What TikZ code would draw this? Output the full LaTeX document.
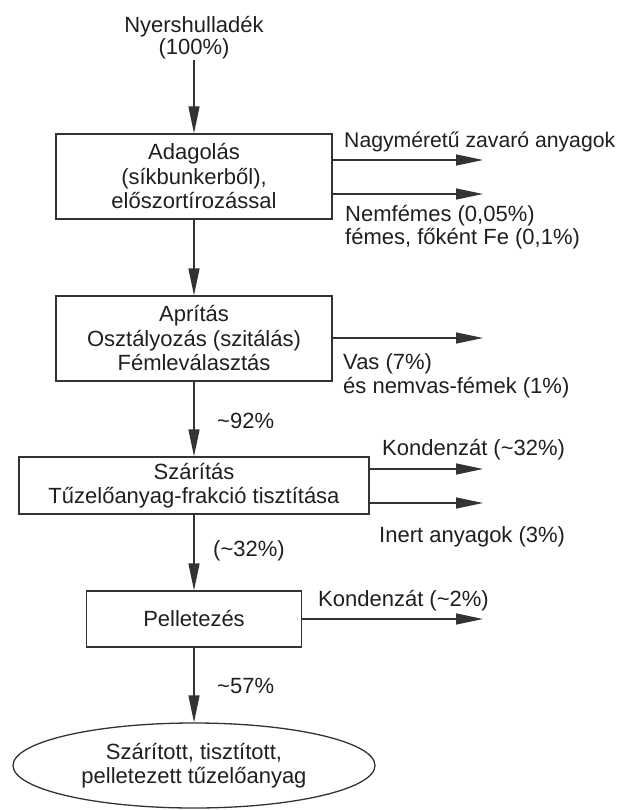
\documentclass[tikz,border=0pt]{standalone}
\usepackage{fontspec}
\setmainfont{Liberation Sans}
\usetikzlibrary{arrows.meta,shapes.geometric}
\begin{document}
\begin{tikzpicture}[x=1pt,y=-1pt,
  every node/.style={inner sep=0pt, font=\fontsize{22}{24.5}\selectfont, text=black!88},
  procbox/.style={draw=black!80, line width=1.3pt, align=center},
  flow/.style={draw=black!80, line width=1.3pt, -{Triangle[length=27pt,width=11pt]}},
  lbl/.style={anchor=base west},
]
\useasboundingbox (0,0) rectangle (623,810);

% input material
\node[anchor=base] (src1) at (194,33) {Nyershulladék};
\node[anchor=base] (src2) at (194,55) {(100\%)};

% process steps
\node[procbox, minimum width=276pt, minimum height=85pt] (b1) at (194,176.5)
  {Adagolás\\(síkbunkerből),\\előszortírozással};
\node[procbox, minimum width=276pt, minimum height=85pt] (b2) at (194,338.5)
  {Aprítás\\Osztályozás (szitálás)\\Fémleválasztás};
\node[procbox, minimum width=350pt, minimum height=57pt] (b3) at (194,485.5)
  {Szárítás\\Tűzelőanyag-frakció tisztítása};
\node[procbox, minimum width=215pt, minimum height=56pt] (b4) at (194,619)
  {Pelletezés};
\node[procbox, ellipse, minimum width=362pt, minimum height=85pt] (prod) at (194,765.5)
  {Szárított, tisztított,\\pelletezett tűzelőanyag};

% main flow
\draw[flow] (src2.south) -- (b1.north);
\draw[flow] (b1.south) -- (b2.north);
\draw[flow] (b2.south) -- (b3.north);
\draw[flow] (b3.south) -- (b4.north);
\draw[flow] (b4.south) -- (prod.north);

% side streams
\coordinate (t1a) at (483,160);
\coordinate (t1b) at (483,194);
\coordinate (t2)  at (483,338);
\coordinate (t3a) at (483,469);
\coordinate (t3b) at (483,503);
\coordinate (t4)  at (483,619);
\draw[flow] (b1.east |- t1a) -- (t1a);
\draw[flow] (b1.east |- t1b) -- (t1b);
\draw[flow] (b2.east |- t2) -- (t2);
\draw[flow] (b3.east |- t3a) -- (t3a);
\draw[flow] (b3.east |- t3b) -- (t3b);
\draw[flow] (b4.east |- t4) -- (t4);

% stream labels
\node[lbl, font=\fontsize{21.2}{24}\selectfont] (l1) at (344,148) {Nagyméretű zavaró anyagok};
\node[lbl] (l2)  at (345,222) {Nemfémes (0,05\%)};
\node[lbl] (l3)  at (345,244) {fémes, főként Fe (0,1\%)};
\node[lbl] (l4)  at (343,369) {Vas (7\%)};
\node[lbl] (l5)  at (343,393) {és nemvas-fémek (1\%)};
\node[lbl] (l6)  at (217,428) {\textasciitilde92\%};
\node[lbl] (l7)  at (382,455) {Kondenzát (\textasciitilde32\%)};
\node[lbl] (l8)  at (379,542) {Inert anyagok (3\%)};
\node[lbl] (l9)  at (213,556) {(\textasciitilde32\%)};
\node[lbl] (l10) at (318,606) {Kondenzát (\textasciitilde2\%)};
\node[lbl] (l11) at (217,693) {\textasciitilde57\%};
\end{tikzpicture}
\end{document}
